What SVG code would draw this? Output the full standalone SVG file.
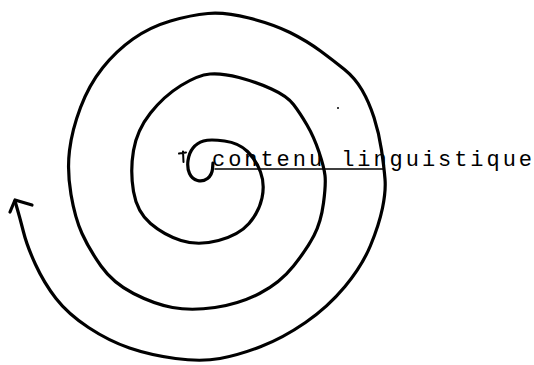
<svg xmlns="http://www.w3.org/2000/svg" width="534" height="365" viewBox="0 0 534 365">
<style>
.ink{fill:none;stroke:#000;stroke-linecap:round;stroke-linejoin:round}
.thick{stroke-width:3.2}
.thin{stroke-width:1.5}
.lbl{font-family:"Liberation Mono","DejaVu Sans Mono",monospace;font-size:22px;fill:#000}
</style>
<rect width="534" height="365" fill="#fff"/>
<g id="spiral">
<path class="ink thick" d="M213,163 L212.5,169 Q212,175 207.5,178.5 Q203,182 197.5,180.5 Q192,179 189.5,173.5 Q187,168 188,160.5 Q189,153 193,148 Q197,143 203.5,141 Q210,139 224.5,141 Q239,143 247.5,151.5 Q256,160 260.5,172 Q265,184 262,198 Q259,212 249,223.5 Q239,235 218.5,240.5 Q198,246 181,240.5 Q164,235 150.5,223.5 Q137,212 133.5,191.5 Q130,171 133.5,150.5 Q137,130 150.5,113 Q164,96 181,85.5 Q198,75 210,74 Q222,73 239,77.5 Q256,82 271.5,89 Q287,96 293.5,104.5 Q300,113 307,125 Q314,137 319,152 Q324,167 325,175.5 Q326,184 323.5,203 Q321,222 314,235.5 Q307,249 293.5,266 Q280,283 259.5,293.5 Q239,304 215,307.5 Q191,311 172.5,307.5 Q154,304 133.5,293.5 Q113,283 101,266 Q89,249 82,233.5 Q75,218 71,194.5 Q67,171 69.5,150.5 Q72,130 80.5,107.5 Q89,85 102.5,68 Q116,51 133,39 Q150,27 170.5,21 Q191,15 208,13.5 Q225,12 249,18 Q273,24 290,32.5 Q307,41 320.5,51 Q334,61 344.5,69.5 Q355,78 362,90 Q369,102 374,117.5 Q379,133 381.5,150 Q384,167 385,179 Q386,191 382.5,208 Q379,225 370.5,245.5 Q362,266 345,286.5 Q328,307 305.5,322.5 Q283,338 261,346.5 Q239,355 220,358.5 Q201,362 175.5,358.5 Q150,355 129.5,348 Q109,341 88.5,327.5 Q68,314 56,298.5 Q44,283 35.5,264.5 Q27,246 23.5,232 Q20,218 15,201"/>
<path class="ink thick" d="M10,212 L15,200 L32,205"/>
<path class="ink" stroke-width="2" d="M179,153.5 L186,152.5 M183,151.5 L183.5,162"/>
<circle cx="338" cy="108" r="1" fill="#000"/>
</g>
<g id="label">
<line class="ink thin" x1="215" y1="169" x2="384" y2="169"/>
<text class="lbl" x="212" y="166" textLength="320" lengthAdjust="spacing">contenu linguistique</text>
</g>
</svg>
